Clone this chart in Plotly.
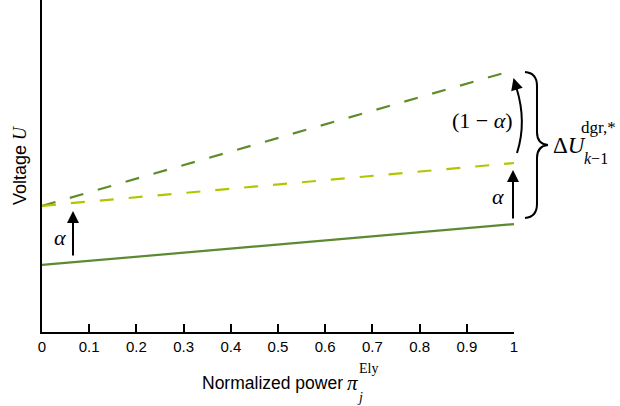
import plotly.graph_objects as go

# ---- data ----
x_power = [0, 1]
u_solid = [2.02, 3.25]          # base voltage curve
u_alpha = [3.80, 5.09]          # shifted by alpha
u_full = [3.80, 7.89]           # shifted fully
x_ticks = [0, 0.1, 0.2, 0.3, 0.4, 0.5, 0.6, 0.7, 0.8, 0.9, 1]
x_ticklabels = ["0", "0.1", "0.2", "0.3", "0.4", "0.5", "0.6", "0.7", "0.8", "0.9", "1"]

SANS = "Liberation Sans, Arial, sans-serif"
SERIF = "Liberation Serif, Times New Roman, serif"

# plot area geometry (pixels)
L, R, T, B = 42, 514, 0, 332
W, H = 620, 406
YMAX = 10.0


def px(xp):  # pixel -> paper x
    return (xp - L) / (R - L)


def py(yp):  # pixel -> paper y
    return (B - yp) / (B - T)


def dx(xp):  # pixel -> data x
    return (xp - L) / (R - L)


def dy(yp):  # pixel -> data y
    return (B - yp) / (B - T) * YMAX


fig = go.Figure()
fig.add_trace(go.Scatter(x=x_power, y=u_full, mode="lines",
                         line=dict(color="#5e8c2a", width=2.2, dash="14px,15px"),
                         showlegend=False, hoverinfo="skip"))
fig.add_trace(go.Scatter(x=x_power, y=u_alpha, mode="lines",
                         line=dict(color="#b2c600", width=2.2, dash="14px,15px"),
                         showlegend=False, hoverinfo="skip"))
fig.add_trace(go.Scatter(x=x_power, y=u_solid, mode="lines",
                         line=dict(color="#5b8a32", width=2.2),
                         showlegend=False, hoverinfo="skip"))

annotations = []
# straight arrows
for (x0, y0, y1) in [(73, 257, 211), (513, 220, 170)]:
    annotations.append(dict(x=dx(x0), y=dy(y1), ax=dx(x0), ay=dy(y0),
                            xref="x", yref="y", axref="x", ayref="y",
                            showarrow=True, arrowhead=2, arrowsize=1.2, arrowwidth=2,
                            arrowcolor="black", text="", standoff=0, startstandoff=0))
# curved arrow head
annotations.append(dict(x=px(513.5), y=py(78), ax=3, ay=10,
                        xref="paper", yref="paper",
                        showarrow=True, arrowhead=2, arrowsize=1.2, arrowwidth=2,
                        arrowcolor="black", text="", standoff=0, startstandoff=0))

# math labels
annotations += [
    dict(x=px(60), y=py(237), text="<i>α</i>", font=dict(family=SERIF, size=22, color="black")),
    dict(x=px(498), y=py(196), text="<i>α</i>", font=dict(family=SERIF, size=22, color="black")),
    dict(x=px(482), y=py(120), text="(1 − <i>α</i>)", font=dict(family=SERIF, size=22, color="black")),
    dict(x=px(551), y=py(145), text="Δ<i>U</i>", xanchor="left",
         font=dict(family=SERIF, size=23, color="black")),
    dict(x=px(579), y=py(127), text="dgr,*", xanchor="left",
         font=dict(family=SERIF, size=17, color="black")),
    dict(x=px(582), y=py(158), text="<i>k</i>−1", xanchor="left",
         font=dict(family=SERIF, size=16, color="black")),
    # axis titles
    dict(x=px(200), y=py(383), xanchor="left", text="Normalized power",
         font=dict(family=SANS, size=17.5, color="black")),
    dict(x=px(20), y=py(166), text="Voltage <span style='font-family:Liberation Serif'><i>U</i></span>",
         textangle=-90, font=dict(family=SANS, size=18, color="black")),
    dict(x=px(352), y=py(383), text="<i>π</i>",
         font=dict(family=SERIF, size=21, color="black")),
    dict(x=px(360), y=py(397), text="<i>j</i>",
         font=dict(family=SERIF, size=14, color="black")),
    dict(x=px(357), y=py(368), xanchor="left", text="Ely",
         font=dict(family=SERIF, size=14, color="black")),
]
for a in annotations:
    a.setdefault("xref", "paper")
    a.setdefault("yref", "paper")
    a.setdefault("showarrow", False)
    a.setdefault("xanchor", "center")
    a.setdefault("yanchor", "middle")


def fmt(pts):
    return [(f"{px(a):.4f}", f"{py(b):.4f}") for a, b in pts]


# brace
c = fmt([(525, 72), (537, 73), (537, 86), (537, 132), (537, 144), (548, 145),
         (537, 146), (537, 158), (537, 204), (537, 217), (525, 218)])
brace = (f"M {c[0][0]},{c[0][1]} Q {c[1][0]},{c[1][1]} {c[2][0]},{c[2][1]} "
         f"L {c[3][0]},{c[3][1]} Q {c[4][0]},{c[4][1]} {c[5][0]},{c[5][1]} "
         f"Q {c[6][0]},{c[6][1]} {c[7][0]},{c[7][1]} L {c[8][0]},{c[8][1]} "
         f"Q {c[9][0]},{c[9][1]} {c[10][0]},{c[10][1]}")

# curved arrow body
k = fmt([(517, 153), (527, 122), (516.5, 88)])
curve = f"M {k[0][0]},{k[0][1]} Q {k[1][0]},{k[1][1]} {k[2][0]},{k[2][1]}"

fig.update_layout(
    width=W, height=H,
    margin=dict(l=L, r=W - R, t=T, b=H - B),
    paper_bgcolor="white", plot_bgcolor="white",
    annotations=annotations,
    shapes=[dict(type="path", path=brace, xref="paper", yref="paper",
                 line=dict(color="black", width=2)),
            dict(type="path", path=curve, xref="paper", yref="paper",
                 line=dict(color="black", width=2))],
    xaxis=dict(range=[0, 1], showgrid=False, zeroline=False,
               showline=True, linecolor="black", linewidth=2,
               ticks="inside", ticklen=8, tickwidth=1.5, tickcolor="black",
               tickvals=x_ticks, ticktext=x_ticklabels,
               tickfont=dict(family=SANS, size=15, color="black")),
    yaxis=dict(range=[0, YMAX], showgrid=False, zeroline=False,
               showline=True, linecolor="black", linewidth=2,
               showticklabels=False, ticks=""),
)

fig.write_html("out.html", config={"displayModeBar": False},
               post_script="document.body.style.margin='0';document.body.style.padding='0';")
